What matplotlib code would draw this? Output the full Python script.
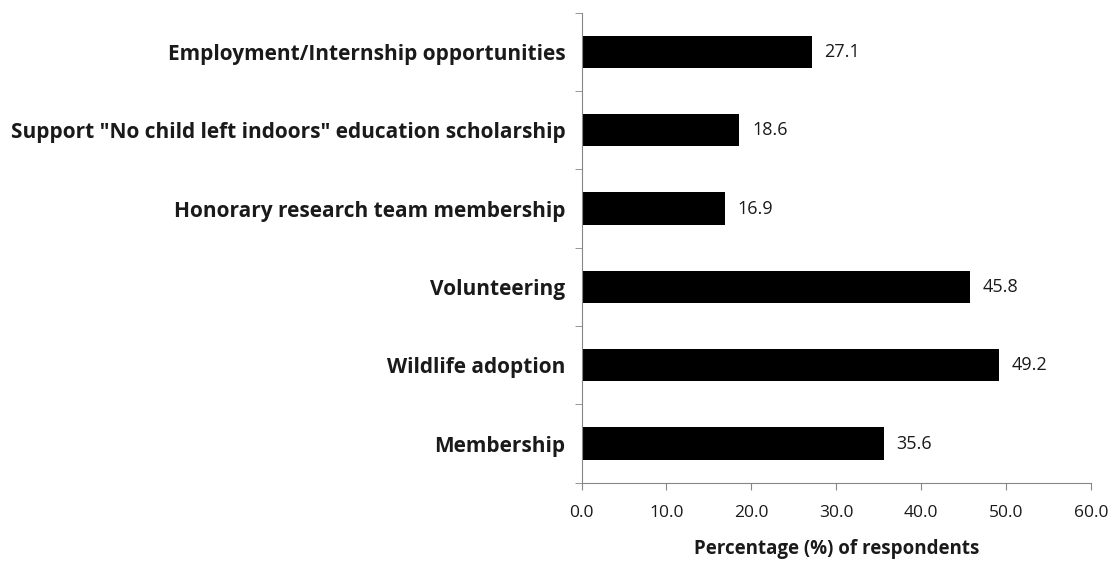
import numpy as np
import matplotlib.pyplot as plt

# Survey results: share of respondents interested in each option
categories = [
    "Membership",
    "Wildlife adoption",
    "Volunteering",
    "Honorary research team membership",
    'Support "No child left indoors" education scholarship',
    "Employment/Internship opportunities",
]
percentages = [35.6, 49.2, 45.8, 16.9, 18.6, 27.1]
x_ticks = [0, 10, 20, 30, 40, 50, 60]

plt.rcParams['font.family'] = ['Open Sans', 'DejaVu Sans']
axis_grey = '#868686'
text_col = '#1a1a1a'

fig = plt.figure(figsize=(11.12, 5.61), dpi=100)
ax = fig.add_axes([0.523, 0.1396, 0.458, 0.8378])

y = np.arange(len(categories))
ax.barh(y, percentages, height=0.41, color='black')

# value labels just past the end of each bar
for yi, val in zip(y, percentages):
    ax.text(val + 1.5, yi, f"{val:.1f}", va='center', ha='left',
            fontsize=13, color=text_col)

ax.set_xlim(0, 60)
ax.set_ylim(-0.5, len(categories) - 0.5)
ax.set_xticks(x_ticks)
ax.set_xticklabels([f"{t:.1f}" for t in x_ticks], fontsize=12.5, color=text_col)
ax.set_yticks(y)
ax.set_yticklabels(categories, fontsize=15, fontweight='bold', color=text_col)
ax.tick_params(axis='y', length=0, pad=11.5)
# category separators on the value axis
ax.set_yticks(np.arange(-0.5, len(categories)), minor=True)
ax.tick_params(axis='y', which='minor', length=5, color=axis_grey)
ax.tick_params(axis='x', length=5, color=axis_grey, pad=11)

for side in ['top', 'right']:
    ax.spines[side].set_visible(False)
for side in ['left', 'bottom']:
    ax.spines[side].set_color(axis_grey)

ax.set_xlabel("Percentage (%) of respondents", fontsize=13.5,
              fontweight='bold', color=text_col, labelpad=13)

fig.savefig('out.png', dpi=100)
